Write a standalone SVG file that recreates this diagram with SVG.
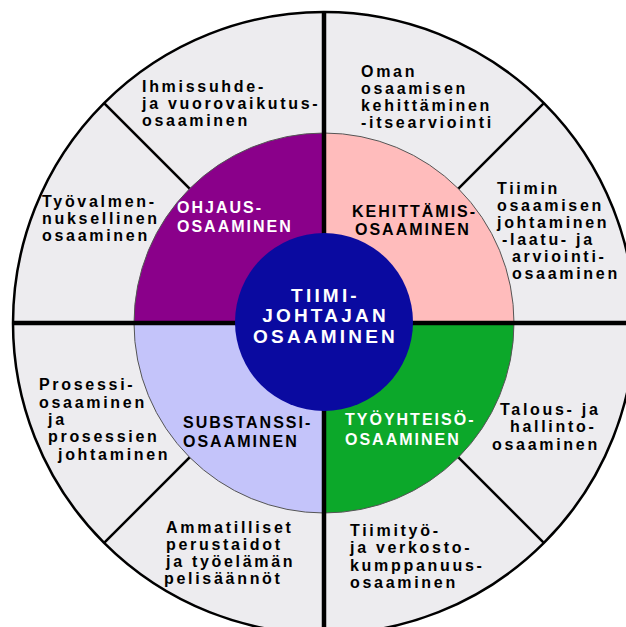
<svg xmlns="http://www.w3.org/2000/svg" width="626" height="627" viewBox="0 0 626 627">
<style>
.o{font-family:"Liberation Sans",Arial,sans-serif;font-size:16px;font-weight:bold;letter-spacing:2.7px;fill:#000}
.i{font-family:"Liberation Sans",Arial,sans-serif;font-size:16px;font-weight:bold;letter-spacing:2px}
.c{font-family:"Liberation Sans",Arial,sans-serif;font-size:19px;font-weight:bold;letter-spacing:3.2px;fill:#fff;text-anchor:middle}
.w{fill:#fff}.k{fill:#000}
.thick{stroke:#000;stroke-width:4.5;fill:none}
.thin{stroke:#000;stroke-width:2.5;fill:none}
</style>
<rect width="626" height="627" fill="#fff"/>
<g id="ring">
<circle cx="324" cy="323" r="311" fill="#edecef"/>
</g>
<g id="ohjaus">
<path d="M324,323 L134,323 A190,190 0 0 1 324,133 Z" fill="#8a008a"/>
<text class="i w" x="177" y="213">OHJAUS-</text>
<text class="i w" x="177" y="232">OSAAMINEN</text>
</g>
<g id="kehittamis">
<path d="M324,323 L324,133 A190,190 0 0 1 514,323 Z" fill="#ffbcbc"/>
<text class="i k" x="352" y="217">KEHITTÄMIS-</text>
<text class="i k" x="355" y="235">OSAAMINEN</text>
</g>
<g id="tyoyhteiso">
<path d="M324,323 L514,323 A190,190 0 0 1 324,513 Z" fill="#0ca82a"/>
<text class="i w" x="345" y="425">TYÖYHTEISÖ-</text>
<text class="i w" x="345" y="445">OSAAMINEN</text>
</g>
<g id="substanssi">
<path d="M324,323 L324,513 A190,190 0 0 1 134,323 Z" fill="#c4c4fa"/>
<text class="i k" x="183" y="428">SUBSTANSSI-</text>
<text class="i k" x="183" y="447">OSAAMINEN</text>
</g>
<g id="connectors">
<circle cx="324" cy="323" r="190" fill="none" stroke="#555" stroke-width="1"/>
<circle cx="324" cy="323" r="311" class="thin"/>
<line x1="13" y1="323" x2="626" y2="323" class="thick"/>
<line x1="324" y1="12" x2="324" y2="627" class="thick"/>
<line x1="189.6" y1="188.6" x2="104.1" y2="103.1" class="thin"/>
<line x1="458.4" y1="188.6" x2="543.9" y2="103.1" class="thin"/>
<line x1="189.6" y1="457.4" x2="104.1" y2="542.9" class="thin"/>
<line x1="458.4" y1="457.4" x2="543.9" y2="542.9" class="thin"/>
</g>
<g id="center">
<circle cx="324" cy="322" r="89" fill="#0a0aa0"/>
<text class="c" x="325.5" y="302">TIIMI-</text>
<text class="c" x="325.5" y="322">JOHTAJAN</text>
<text class="c" x="325.5" y="343">OSAAMINEN</text>
</g>
<g id="ihmissuhde">
<text class="o" x="142" y="92">Ihmissuhde-</text>
<text class="o" x="142" y="109">ja vuorovaikutus-</text>
<text class="o" x="142" y="126">osaaminen</text>
</g>
<g id="oman">
<text class="o" x="361" y="77">Oman</text>
<text class="o" x="361" y="94">osaamisen</text>
<text class="o" x="361" y="111">kehittäminen</text>
<text class="o" x="361" y="128">-itsearviointi</text>
</g>
<g id="tyovalmennuksellinen">
<text class="o" x="42" y="207">Työvalmen-</text>
<text class="o" x="42" y="224">nuksellinen</text>
<text class="o" x="42" y="241">osaaminen</text>
</g>
<g id="tiimin">
<text class="o" x="497" y="194">Tiimin</text>
<text class="o" x="497" y="211">osaamisen</text>
<text class="o" x="497" y="228">johtaminen</text>
<text class="o" x="502" y="245">-laatu- ja</text>
<text class="o" x="512" y="262">arviointi-</text>
<text class="o" x="512" y="279">osaaminen</text>
</g>
<g id="prosessi">
<text class="o" x="39" y="390">Prosessi-</text>
<text class="o" x="39" y="408">osaaminen</text>
<text class="o" x="48" y="425">ja</text>
<text class="o" x="48" y="442">prosessien</text>
<text class="o" x="58" y="460">johtaminen</text>
</g>
<g id="talous">
<text class="o" x="500" y="415">Talous- ja</text>
<text class="o" x="510" y="432">hallinto-</text>
<text class="o" x="492" y="450">osaaminen</text>
</g>
<g id="ammatilliset">
<text class="o" x="166" y="533">Ammatilliset</text>
<text class="o" x="166" y="550">perustaidot</text>
<text class="o" x="166" y="567">ja työelämän</text>
<text class="o" x="164" y="584">pelisäännöt</text>
</g>
<g id="tiimityo">
<text class="o" x="350" y="536">Tiimityö-</text>
<text class="o" x="350" y="553">ja verkosto-</text>
<text class="o" x="350" y="571">kumppanuus-</text>
<text class="o" x="350" y="588">osaaminen</text>
</g>
</svg>
